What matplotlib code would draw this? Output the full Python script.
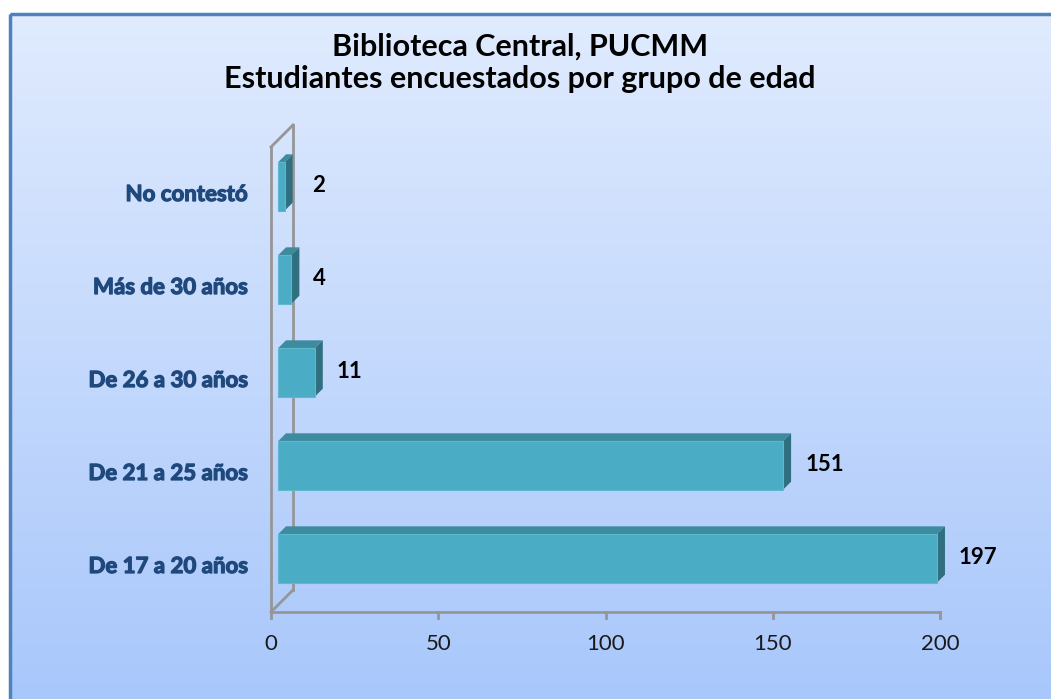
import matplotlib
matplotlib.use("Agg")
import matplotlib.pyplot as plt
import matplotlib.patheffects as pe
import numpy as np
from matplotlib.patches import Polygon, Rectangle
from matplotlib.lines import Line2D

categories = ["De 17 a 20 años", "De 21 a 25 años", "De 26 a 30 años", "Más de 30 años", "No contestó"]
values = [197, 151, 11, 4, 2]
xticks = [0, 50, 100, 150, 200]
title = "Biblioteca Central, PUCMM\nEstudiantes encuestados por grupo de edad"

W, H = 1051, 699
fig = plt.figure(figsize=(W / 100, H / 100), dpi=100)
fig.patch.set_facecolor("white")

# background gradient panel
bg = fig.add_axes([0, 0, 1, 1], zorder=0)
bg.set_xlim(0, W)
bg.set_ylim(H, 0)
bg.axis("off")
top = np.array([0xE0, 0xEB, 0xFE]) / 255
bot = np.array([0xA8, 0xC7, 0xFB]) / 255
t = np.linspace(0, 1, 256)[:, None]
grad = (top[None, :] * (1 - t) + bot[None, :] * t)[:, None, :]
bg.imshow(grad, extent=[10, W + 5, H + 5, 14], aspect="auto", zorder=0)
bg.add_patch(Rectangle((10, 14), W, H, fill=False, edgecolor="#4F81BD", lw=2.5, zorder=1))

# plot axes: x 0..200 -> px 271..940, floor at y=612, top at 147
L, R, B, T = 271, 940, 612, 147
ax = fig.add_axes([L / W, (H - B) / H, (R - L) / W, (B - T) / H], zorder=2)
ax.set_xlim(0, 200)
ax.set_ylim(-0.5, len(categories) - 0.5)
ax.patch.set_alpha(0)
for s in ax.spines.values():
    s.set_visible(False)

sx = 200 / (R - L)          # data units per pixel in x
sy = len(categories) / (B - T)  # data units per pixel in y

def off(x, y, d):
    return (x + d * sx, y + d * sy)

gray = "#969696"
# walls
ymin, ymax = -0.5, len(categories) - 0.5
D = 22
lines = [
    [(0, ymin), (0, ymax)],
    [(0, ymax), off(0, ymax, D)],
    [(0, ymin), off(0, ymin, D)],
    [off(0, ymin, D), off(0, ymax, D)],
    [(0, ymin), (200, ymin)],
]
for seg in lines:
    xs, ys = zip(*seg)
    ax.add_line(Line2D(xs, ys, color=gray, lw=2, clip_on=False, zorder=1, solid_capstyle="projecting"))
for xt in xticks:
    ax.add_line(Line2D([xt, xt], [ymin, ymin - 6 * sy], color=gray, lw=2, clip_on=False, zorder=1))

# bars
h = 0.52
d0, d1 = 7, 15
front_c = "#4BACC6"
top_c = "#3D8B9F"
side_c = "#2F6F7F"
edge_c = "#5FB8CE"
ypos = np.arange(len(categories))
for yi, v in zip(ypos, values):
    y0, y1 = yi - h / 2, yi + h / 2
    front = [off(0, y0, d0), off(v, y0, d0), off(v, y1, d0), off(0, y1, d0)]
    topf = [off(0, y1, d0), off(v, y1, d0), off(v, y1, d1), off(0, y1, d1)]
    side = [off(v, y0, d0), off(v, y0, d1), off(v, y1, d1), off(v, y1, d0)]
    ax.add_patch(Polygon(topf, closed=True, fc=top_c, ec="none", clip_on=False, zorder=3))
    ax.add_patch(Polygon(side, closed=True, fc=side_c, ec="none", clip_on=False, zorder=3))
    ax.add_patch(Polygon(front, closed=True, fc=front_c, ec=edge_c, lw=0.8, clip_on=False, zorder=4))
    lx = max(v * 1.0, 0) + (d0 + 22) * sx
    lx = max(lx, 41 * sx)
    ax.text(lx, yi + 8 * sy, str(v), ha="left", va="center", fontsize=16,
            fontweight="bold", family="Lato", color="#000000", zorder=5)

ax.set_xticks([])
ax.set_yticks([])
for xt in xticks:
    ax.text(xt, ymin - 32 * sy, str(xt), ha="center", va="center", fontsize=16,
            family="Lato", color="#1a1a1a")
for yi, c in zip(ypos, categories):
    ax.text(-23 * sx, yi - 1 * sy, c, ha="right", va="center", fontsize=16,
            fontweight="bold", family="Lato", color="#1F497D",
            path_effects=[pe.withStroke(linewidth=0.9, foreground="#1F497D")])

fig.text(520 / W, 1 - 63 / H, title, ha="center", va="center", fontsize=22,
         fontweight="bold", family="Lato", color="#000000", linespacing=1.2)

fig.savefig("out.png", dpi=100)
